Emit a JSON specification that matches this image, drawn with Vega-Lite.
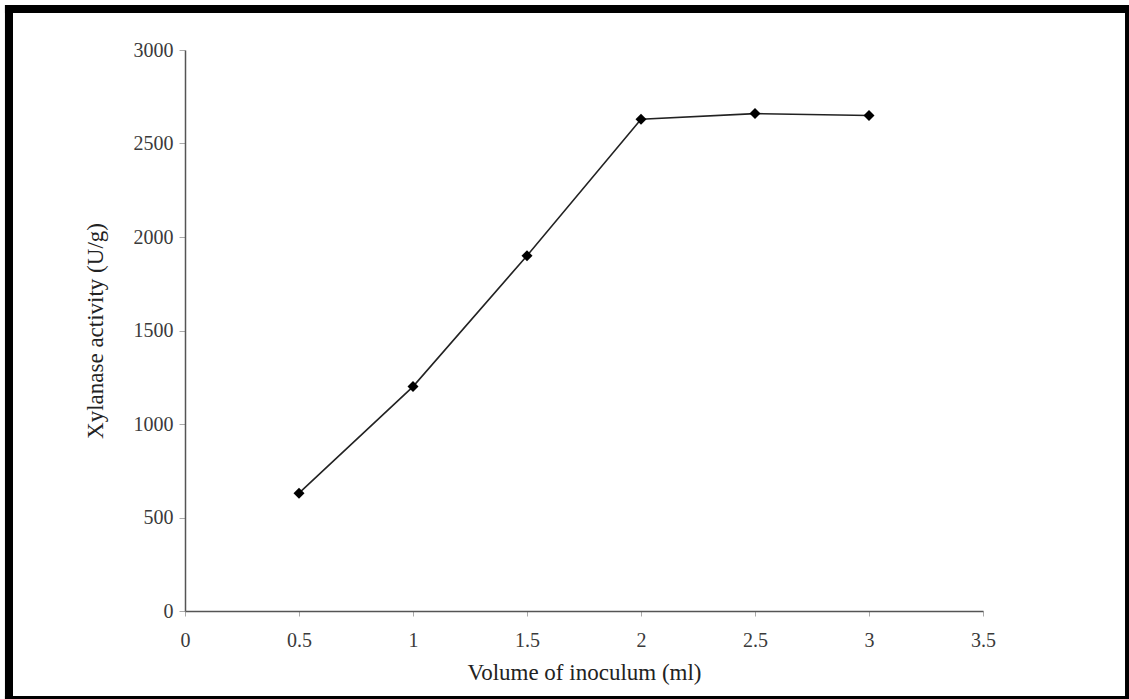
{
  "$schema": "https://vega.github.io/schema/vega-lite/v6.json",
  "autosize": {"type": "none"},
  "width": 798,
  "height": 561,
  "padding": {"left": 185, "top": 50, "right": 146, "bottom": 88},
  "background": "white",
  "config": {
    "view": {"stroke": null},
    "font": "Liberation Serif",
    "axis": {
      "grid": false,
      "domainColor": "#555555",
      "domainWidth": 1.5,
      "tickColor": "#aaaaaa",
      "labelColor": "#3a3a3a",
      "titleColor": "#222222",
      "labelFont": "Liberation Serif",
      "titleFont": "Liberation Serif",
      "titleFontWeight": "normal",
      "labelFontSize": 20,
      "titleFontSize": 23
    }
  },
  "data": {
    "values": [
      {"volume": 0.5, "activity": 630},
      {"volume": 1.0, "activity": 1200},
      {"volume": 1.5, "activity": 1900},
      {"volume": 2.0, "activity": 2630},
      {"volume": 2.5, "activity": 2660},
      {"volume": 3.0, "activity": 2650}
    ]
  },
  "layer": [
    {
      "mark": {"type": "line", "color": "#222222", "strokeWidth": 1.6},
      "encoding": {
        "x": {
          "field": "volume",
          "type": "quantitative",
          "scale": {"domain": [0, 3.5], "nice": false},
          "axis": {
            "title": "Volume of inoculum (ml)",
            "values": [0, 0.5, 1, 1.5, 2, 2.5, 3, 3.5],
            "format": "~g",
            "tickSize": 5,
            "labelPadding": 14,
            "titlePadding": 11,
            "labelFlush": false,
            "zindex": 1
          }
        },
        "y": {
          "field": "activity",
          "type": "quantitative",
          "scale": {"domain": [0, 3000], "nice": false},
          "axis": {
            "title": "Xylanase activity (U/g)",
            "values": [0, 500, 1000, 1500, 2000, 2500, 3000],
            "format": "d",
            "tickSize": 6,
            "labelPadding": 6,
            "titlePadding": 26,
            "labelFlush": false,
            "zindex": 1
          }
        }
      }
    },
    {
      "mark": {"type": "point", "shape": "diamond", "filled": true, "color": "black", "size": 120, "opacity": 1},
      "encoding": {
        "x": {"field": "volume", "type": "quantitative"},
        "y": {"field": "activity", "type": "quantitative"}
      }
    },
    {
      "mark": {"type": "rect", "color": "black", "clip": false},
      "encoding": {
        "x": {"datum": -0.7895, "type": "quantitative"},
        "x2": {"datum": 4.1404},
        "y": {"datum": 3240.6, "type": "quantitative"},
        "y2": {"datum": 3197.9}
      }
    },
    {
      "mark": {"type": "rect", "color": "black", "clip": false},
      "encoding": {
        "x": {"datum": -0.7895, "type": "quantitative"},
        "x2": {"datum": 4.1404},
        "y": {"datum": -454.5, "type": "quantitative"},
        "y2": {"datum": -470.6}
      }
    },
    {
      "mark": {"type": "rect", "color": "black", "clip": false},
      "encoding": {
        "x": {"datum": -0.7895, "type": "quantitative"},
        "x2": {"datum": -0.7544},
        "y": {"datum": 3240.6, "type": "quantitative"},
        "y2": {"datum": -470.6}
      }
    },
    {
      "mark": {"type": "rect", "color": "black", "clip": false},
      "encoding": {
        "x": {"datum": 4.125, "type": "quantitative"},
        "x2": {"datum": 4.1404},
        "y": {"datum": 3240.6, "type": "quantitative"},
        "y2": {"datum": -470.6}
      }
    }
  ]
}
